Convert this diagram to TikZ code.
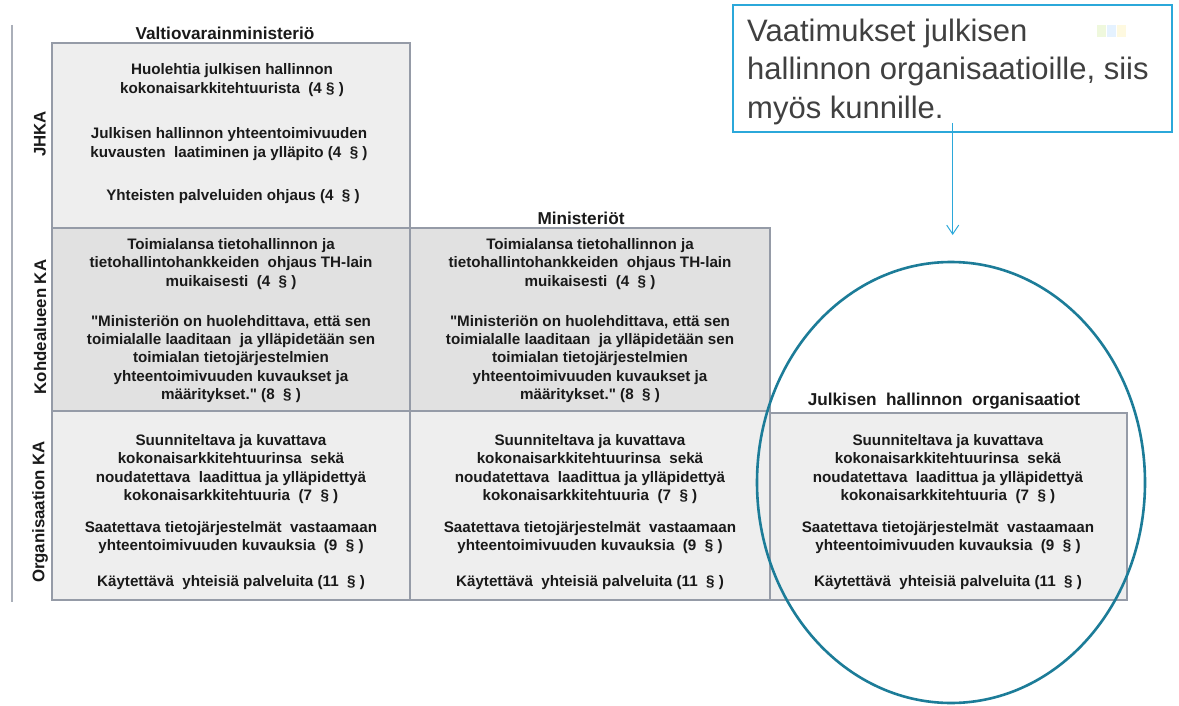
\documentclass[tikz,border=0pt]{standalone}
\usepackage{fontspec}
\setmainfont{Liberation Sans}[Ligatures=TeXOff]
\usetikzlibrary{arrows.meta,shapes.geometric}
\definecolor{cellborder}{HTML}{959BA7}
\definecolor{celllight}{HTML}{EEEEEE}
\definecolor{celldark}{HTML}{E1E1E1}
\definecolor{bodytext}{HTML}{1A1A1A}
\definecolor{calloutblue}{HTML}{2BA8DA}
\definecolor{ringteal}{HTML}{1C7C98}
\definecolor{notegray}{HTML}{404040}
\begin{document}
\begin{tikzpicture}[x=1pt,y=-1pt,
  cell/.style={draw=cellborder,line width=2.2pt},
  para/.style={align=center,text=bodytext,inner sep=0pt,
    font=\bfseries\fontsize{15.2}{18.2}\selectfont},
  header/.style={text=bodytext,inner sep=0pt,font=\bfseries\fontsize{17.2}{20}\selectfont},
  rowlabel/.style={text=bodytext,inner sep=0pt,rotate=90,font=\bfseries\fontsize{16.8}{20}\selectfont},
  note/.style={draw=calloutblue,line width=1.6pt,minimum width=439pt,minimum height=127pt,inner sep=0pt},
  notetext/.style={anchor=base west,inner sep=0pt,text=notegray,font=\fontsize{31}{38}\selectfont},
  pointer/.style={draw=calloutblue,line width=1pt,-{Straight Barb[length=9pt,width=12pt,line width=1pt]}},
  ring/.style={draw=ringteal,line width=2.6pt}]
\useasboundingbox (0,0) rectangle (1179,706);
\fill[white] (0,0) rectangle (1179,706);

% left axis line
\draw[draw=cellborder!80,line width=2pt] (11.5,25) -- (11.5,602);

% grid cells
\filldraw[cell,fill=celllight] (52,43) rectangle (410,228);
\filldraw[cell,fill=celldark] (52,228) rectangle (410,411);
\filldraw[cell,fill=celldark] (410,228) rectangle (770,411);
\filldraw[cell,fill=celllight] (52,411) rectangle (410,600);
\filldraw[cell,fill=celllight] (410,411) rectangle (770,600);
\filldraw[cell,fill=celllight] (770,413) rectangle (1127,600);

% column headers
\node[header] (hvm) at (225,33) {Valtiovarainministeriö};
\node[header] (hmin) at (581,218) {Ministeriöt};
\node[header] (horg) at (944,401) {Julkisen~ hallinnon~ organisaatiot};

% row labels
\node[rowlabel] (ljhka) at (40,134) {JHKA};
\node[rowlabel] (lkohde) at (40,327) {Kohdealueen KA};
\node[rowlabel] (lorg) at (40,512) {Organisaation KA};

% JHKA row
\node[para] (a1) at (232,80) {Huolehtia julkisen hallinnon\\kokonaisarkkitehtuurista~ (4 § )};
\node[para] (a2) at (229,144) {Julkisen hallinnon yhteentoimivuuden\\kuvausten~ laatiminen ja ylläpito (4~ § )};
\node[para] (a3) at (233,197) {Yhteisten palveluiden ohjaus (4~ § )};

% Kohdealueen KA row
\foreach \cx/\nm in {231/b, 590/c}{
  \node[para] (\nm1) at (\cx,264) {Toimialansa tietohallinnon ja\\tietohallintohankkeiden~ ohjaus TH-lain\\muikaisesti~ (4~ § )};
  \node[para] (\nm2) at (\cx,359) {"Ministeriön on huolehdittava, että sen\\toimialalle laaditaan~ ja ylläpidetään sen\\toimialan tietojärjestelmien\\yhteentoimivuuden kuvaukset ja\\määritykset." (8~ § )};
}

% Organisaation KA row
\foreach \cx/\nm in {231/d, 590/e, 948/f}{
  \node[para] (\nm1) at (\cx,469) {Suunniteltava ja kuvattava\\kokonaisarkkitehtuurinsa~ sekä\\noudatettava~ laadittua ja ylläpidettyä\\kokonaisarkkitehtuuria~ (7~ § )};
  \node[para] (\nm2) at (\cx,537.5) {Saatettava tietojärjestelmät~ vastaamaan\\yhteentoimivuuden kuvauksia~ (9~ § )};
  \node[para] (\nm3) at (\cx,582.5) {Käytettävä~ yhteisiä palveluita (11~ § )};
}

% callout
\node[note] (callout) at (952.5,68.5) {};
\node[notetext] (n1) at (747,41.5) {Vaatimukset julkisen};
\node[notetext] (n2) at (747,80) {hallinnon organisaatioille, siis};
\node[notetext] (n3) at (747,118.3) {myös kunnille.};

% faint logo marks
\fill[yellow!60!green,opacity=0.15] (1097,25) rectangle (1106,37);
\fill[blue!50!cyan,opacity=0.10] (1107,25) rectangle (1116,37);
\fill[yellow!70!orange,opacity=0.12] (1117,25) rectangle (1126,37);

% highlight ring and pointer
\node[ring,ellipse,minimum width=388pt,minimum height=441pt,inner sep=0pt] (oval) at (951,482.5) {};
\coordinate (pstart) at (952.7,123);
\coordinate (pend) at (952.7,235);
\draw[pointer] (pstart) -- (pend);
\end{tikzpicture}
\end{document}
